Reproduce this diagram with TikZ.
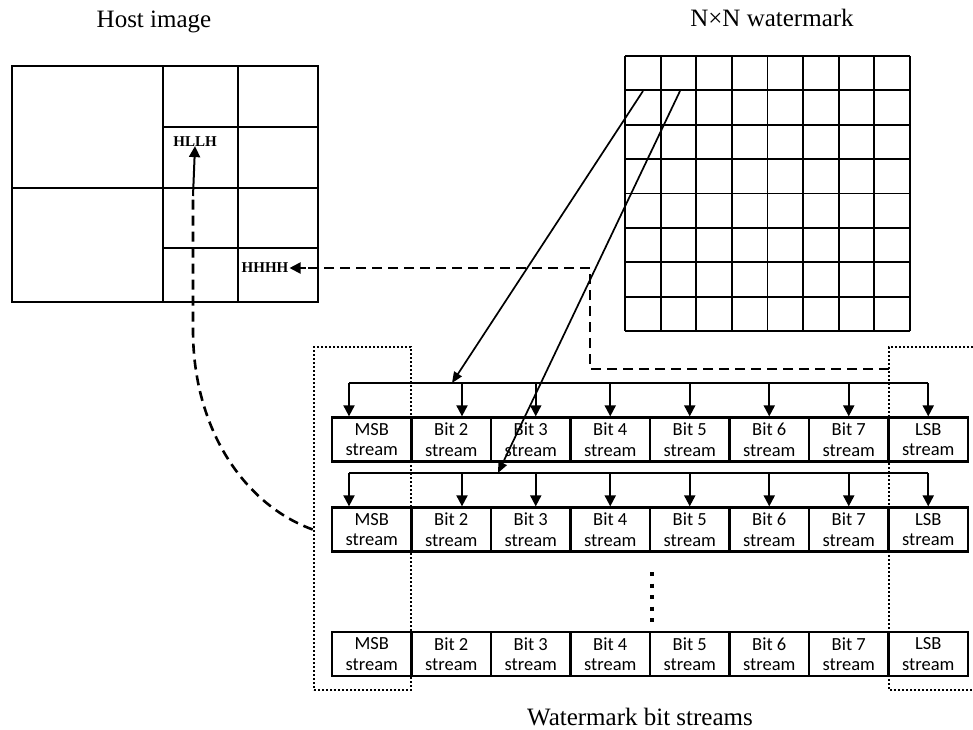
\documentclass[tikz,border=0pt]{standalone}
\usepackage{fontspec}
\setmainfont{Liberation Serif}
\newfontfamily\boxfont{Carlito}
\usetikzlibrary{arrows.meta,calc}
\begin{document}
\begin{tikzpicture}[x=1pt,y=-1pt,
  frame/.style={line width=2.3pt},
  gridline/.style={line width=1.9pt},
  cell/.style={draw,line width=2.3pt,minimum width=79.5pt,minimum height=44pt,inner sep=0pt,align=center,font=\boxfont\fontsize{18.5}{20.5}\selectfont},
  arr/.style={line width=2pt,-{Triangle[length=11pt,width=11pt]}},
  thinarr/.style={line width=1.7pt,-{Triangle[length=11pt,width=9pt]}},
  dashline/.style={line width=2.6pt,dash pattern=on 10pt off 6pt},
  dotbox/.style={line width=2.6pt,dash pattern=on 1.6pt off 2.4pt},
  heading/.style={font=\fontsize{25}{29}\selectfont},
  lbl/.style={font=\bfseries\fontsize{15}{17}\selectfont,inner sep=1pt}
]
\useasboundingbox (0,0) rectangle (973,729);

% titles
\node[heading] (hosttitle) at (154,22) {Host image};
\node[heading] (wmtitle) at (772,18) {N×N watermark};
\node[heading] (bstitle) at (640,717) {Watermark bit streams};

% host image
\draw[frame] (12,66) rectangle (318,302);
\draw[frame] (163,66) -- (163,302) (238,66) -- (238,302)
  (12,188) -- (318,188) (163,127) -- (318,127) (163,248) -- (318,248);
\node[lbl] (hllh) at (195,142) {HLLH};
\node[lbl] (hhhh) at (265,268) {HHHH};

% watermark grid
\node[inner sep=0pt,minimum width=285pt,minimum height=275pt] (wm) at (767.5,193.5) {};
\foreach \i in {0,...,8}{
  \draw[gridline] ({625+35.625*\i},56) -- ({625+35.625*\i},331);
  \draw[gridline] (625,{56+34.375*\i}) -- (910,{56+34.375*\i});
}
\coordinate (w1) at (643,91);
\coordinate (w2) at (680,91);

% stream rows
\foreach \r/\y in {1/439.5,2/529.5,3/654}{
  \foreach \c/\t in {1/MSB,2/Bit 2,3/Bit 3,4/Bit 4,5/Bit 5,6/Bit 6,7/Bit 7,8/LSB}{
    \node[cell] (r\r-\c) at ({332+79.5*(\c-0.5)},\y) {\t\\stream};
  }
}

% distribution buses
\foreach \r/\yb in {1/383,2/473}{
  \coordinate (bus\r L) at (349,\yb);
  \coordinate (bus\r R) at (r\r-8.north |- bus\r L);
  \draw[line width=2pt] (bus\r L) -- (bus\r R);
  \draw[arr] (bus\r L) -- (bus\r L |- r\r-1.north);
  \draw[arr] ([xshift=10.75pt]r\r-2.north |- bus\r L) -- ([xshift=10.75pt]r\r-2.north);
  \draw[arr] ([xshift=5pt]r\r-3.north |- bus\r L) -- ([xshift=5pt]r\r-3.north);
  \foreach \c in {4,...,8}{
    \draw[arr] (r\r-\c.north |- bus\r L) -- (r\r-\c.north);
  }
}

% arrows from watermark
\coordinate (t1) at (452,383);
\coordinate (t2) at (498,473);
\draw[thinarr] (w1) -- (t1);
\draw[thinarr] (w2) -- (t2);

% dotted groups
\node[dotbox,draw,inner sep=0pt,minimum width=97pt,minimum height=343pt] (msbgrp) at (362.5,518.5) {};
\draw[dotbox] (973,347) -- (889,347) -- (889,690) -- (973,690);
\coordinate (lsbL) at (889,369);

% vertical ellipsis
\draw[line width=3.4pt,dash pattern=on 4pt off 7.5pt] (652,572) -- (652,622);

% dashed path to HHHH
\coordinate (c2) at (590,369);
\coordinate (c1) at (590,268);
\draw[dashline] (lsbL) -- (c2) -- (c1) -- ([xshift=14pt]hhhh.east);
\draw[arr] ([xshift=16pt]hhhh.east) -- (hhhh.east);

% dashed curve to HLLH
\draw[dashline] (msbgrp.west |- r2-1) .. controls (245,505) and (193,430) .. (193,330) -- (193,195);
\draw[arr] (193,196) -- ([yshift=2pt]hllh.south);
\end{tikzpicture}
\end{document}
